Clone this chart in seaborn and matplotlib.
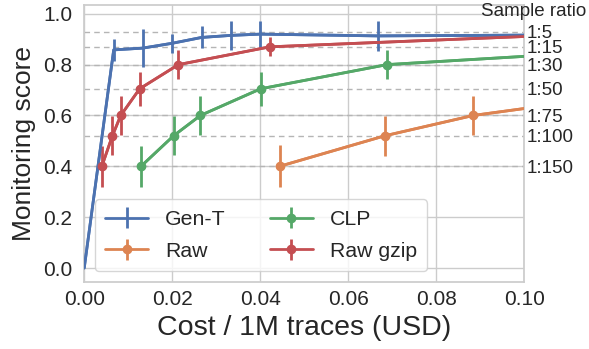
import matplotlib
matplotlib.use("Agg")
import matplotlib.pyplot as plt
import matplotlib.transforms as mtransforms
import seaborn as sns
import pandas as pd

# ---- data ----
genT_x = [0.0, 0.0067, 0.0133, 0.0200, 0.0267, 0.0333, 0.0400, 0.0667, 0.1333]
genT_y = [0.0, 0.858, 0.865, 0.884, 0.907, 0.915, 0.920, 0.913, 0.919]
genT_err = [0.0, 0.043, 0.075, 0.038, 0.043, 0.057, 0.053, 0.060, 0.050]

raw_x = [0.0444, 0.0683, 0.0884, 0.1330]
raw_y = [0.40, 0.52, 0.60, 0.705]
raw_err = [0.082, 0.078, 0.076, 0.066]

clp_x = [0.0129, 0.0203, 0.0264, 0.0401, 0.0688, 0.1360]
clp_y = [0.40, 0.52, 0.60, 0.705, 0.80, 0.87]
clp_err = [0.08, 0.077, 0.076, 0.066, 0.057, 0.038]

gzip_x = [0.0040, 0.0064, 0.0083, 0.0126, 0.0214, 0.0422, 0.1260]
gzip_y = [0.40, 0.52, 0.60, 0.705, 0.80, 0.87, 0.929]
gzip_err = [0.08, 0.077, 0.076, 0.066, 0.057, 0.038, 0.030]

ratio_labels = ["1:5", "1:15", "1:30", "1:50", "1:75", "1:100", "1:150"]
ratio_levels = [0.929, 0.870, 0.80, 0.705, 0.60, 0.52, 0.40]

y_ticks = [0.0, 0.2, 0.4, 0.6, 0.8, 1.0]
x_ticks = [0.00, 0.02, 0.04, 0.06, 0.08, 0.10]

sns.set_theme(style="whitegrid", palette="deep")
plt.rcParams['font.family'] = ['Liberation Sans', 'DejaVu Sans']

pal = sns.color_palette("deep")
fig = plt.figure(figsize=(5.89, 3.49), dpi=100)
ax = fig.add_axes([0.143, 0.192, 0.747, 0.794])

series = [
    ("Gen-T", genT_x, genT_y, genT_err, pal[0], None),
    ("Raw", raw_x, raw_y, raw_err, pal[1], "o"),
    ("CLP", clp_x, clp_y, clp_err, pal[2], "o"),
    ("Raw gzip", gzip_x, gzip_y, gzip_err, pal[3], "o"),
]

for lvl in ratio_levels:
    ax.axhline(lvl, color="#b5b5b5", ls=(0, (4, 3)), lw=1.0, zorder=1)

for name, xs, ys, es, col, mk in series:
    df = pd.DataFrame({"x": xs, "y": ys})
    sns.lineplot(data=df, x="x", y="y", ax=ax, color=col, sort=False,
                 marker=mk if mk else None, markersize=6, markeredgewidth=0,
                 lw=2, legend=False, zorder=3)
    ax.errorbar(xs, ys, yerr=es, color=col, fmt=("-" + mk) if mk else "-",
                lw=2, elinewidth=2, capsize=0, markersize=6,
                label=name, zorder=3)

ax.set_xlim(0, 0.1)
ax.set_ylim(-0.055, 1.035)
ax.set_xticks(x_ticks)
ax.set_yticks(y_ticks)
ax.set_xticklabels([f"{v:.2f}" for v in x_ticks])
ax.set_yticklabels([f"{v:.1f}" for v in y_ticks])
ax.tick_params(axis="both", labelsize=15, colors="#262626", length=0)
ax.tick_params(axis="y", pad=8.5)
ax.tick_params(axis="x", pad=6)
ax.set_xlabel("Cost / 1M traces (USD)", fontsize=20.5, color="#262626", labelpad=4)
ax.set_ylabel("Monitoring score", fontsize=19, color="#262626", labelpad=5)

ax2 = ax.twinx()
ax2.set_ylim(ax.get_ylim())
ax2.set_yticks(ratio_levels)
ax2.set_yticklabels(ratio_labels)
ax2.grid(False)
ax2.tick_params(axis="y", labelsize=13.5, pad=1.5, length=0, colors="#262626")
for s in ax2.spines.values():
    s.set_visible(False)

ax.text(1.022, 1.01, "Sample ratio",
        transform=mtransforms.blended_transform_factory(ax.transAxes, ax.transData),
        ha="center", va="center", fontsize=13.5, color="#262626", clip_on=False)

ax.legend(ncol=2, loc="lower left", fontsize=15.3, frameon=True,
          labelspacing=0.6, columnspacing=2.1, borderpad=0.5)

fig.savefig("out.png", dpi=100)
